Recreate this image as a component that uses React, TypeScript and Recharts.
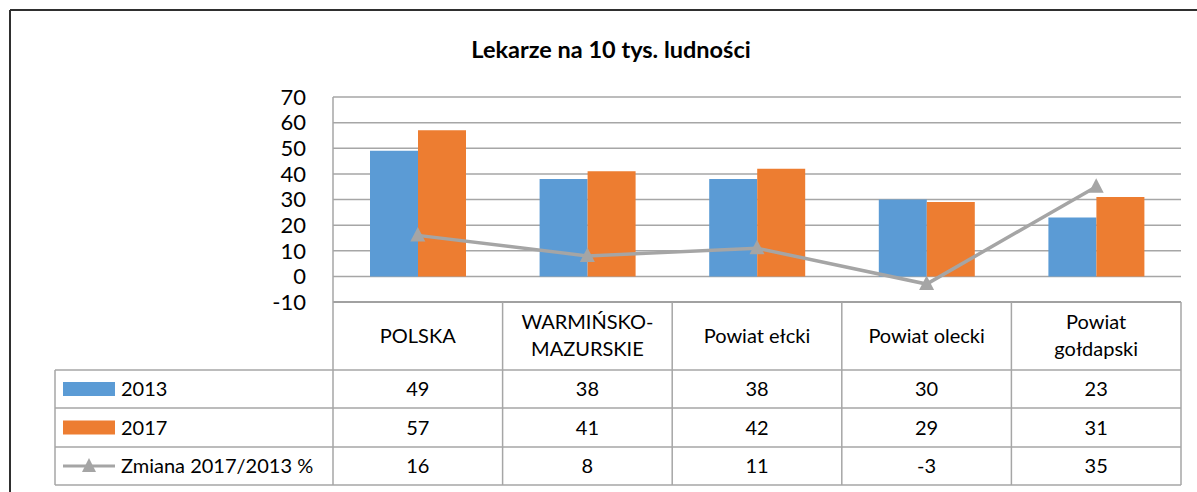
import React from 'react';
import { ComposedChart, Bar, Line, XAxis, YAxis, CartesianGrid, Customized } from 'recharts';

const categories = ['POLSKA', 'WARMIŃSKO-MAZURSKIE', 'Powiat ełcki', 'Powiat olecki', 'Powiat gołdapski'];
const headerLines = [['POLSKA'], ['WARMIŃSKO-', 'MAZURSKIE'], ['Powiat ełcki'], ['Powiat olecki'], ['Powiat', 'gołdapski']];
const values2013 = [49, 38, 38, 30, 23];
const values2017 = [57, 41, 42, 29, 31];
const changePct = [16, 8, 11, -3, 35];
const seriesNames = ['2013', '2017', 'Zmiana 2017/2013 %'];
const yTicks = [-10, 0, 10, 20, 30, 40, 50, 60, 70];
const title = 'Lekarze na 10 tys. ludności';

const data = categories.map((c, i) => ({
  name: c,
  idx: i,
  v2013: values2013[i],
  v2017: values2017[i],
  change: changePct[i],
}));

const W = 1197;
const H = 492;
const PLOT_LEFT = 333;
const PLOT_RIGHT = 1181;
const PLOT_TOP = 97;
const PLOT_BOTTOM = 302;
const ROW_LINES = [370, 408, 447, 485];
const LEGEND_LEFT = 55;
const FONT = 'Lato, "Open Sans", sans-serif';
const BLUE = '#5B9BD5';
const ORANGE = '#ED7D31';
const GRAY = '#A5A5A5';
const GRID = '#A6A6A6';

const rowCenters = [
  (ROW_LINES[0] + ROW_LINES[1]) / 2,
  (ROW_LINES[1] + ROW_LINES[2]) / 2,
  (ROW_LINES[2] + ROW_LINES[3]) / 2,
];

const TableTick = (props: any) => {
  const { x, payload } = props;
  const i = data.findIndex((d) => d.name === payload.value);
  const lines = headerLines[i] || [payload.value];
  const vals = [values2013[i], values2017[i], changePct[i]];
  const headerBase = lines.length === 1 ? [343] : [329, 356];
  return (
    <g>
      {lines.map((l, k) => (
        <text key={k} x={x} y={headerBase[k]} textAnchor="middle" fontFamily={FONT} fontSize={20} fill="#000">
          {l}
        </text>
      ))}
      {vals.map((v, k) => (
        <text key={'v' + k} x={x} y={rowCenters[k] + 7} textAnchor="middle" fontFamily={FONT} fontSize={20} fill="#000">
          {v}
        </text>
      ))}
    </g>
  );
};

const Triangle = (props: any) => {
  const { cx, cy, index } = props;
  if (cx == null || cy == null) return <g key={index} />;
  return (
    <path
      key={index}
      d={`M${cx},${cy - 8.5} L${cx + 7.5},${cy + 6} L${cx - 7.5},${cy + 6} Z`}
      fill={GRAY}
    />
  );
};

const Overlay = () => {
  const colW = (PLOT_RIGHT - PLOT_LEFT) / categories.length;
  const bounds = Array.from({ length: categories.length + 1 }, (_, i) => PLOT_LEFT + i * colW);
  return (
    <g>
      {/* frame */}
      <line x1={10} y1={10} x2={W + 5} y2={10} stroke="#2F2F2F" strokeWidth={2} />
      <line x1={10} y1={10} x2={10} y2={H + 5} stroke="#2F2F2F" strokeWidth={2} />
      {/* title */}
      <text x={611} y={58} textAnchor="middle" fontFamily={FONT} fontWeight={700} fontSize={23.5} fill="#000">
        {title}
      </text>
      {/* table horizontal lines */}
      <line x1={PLOT_LEFT} y1={PLOT_BOTTOM} x2={PLOT_RIGHT} y2={PLOT_BOTTOM} stroke="#999" strokeWidth={1.5} />
      {ROW_LINES.map((y, k) => (
        <line key={k} x1={LEGEND_LEFT} y1={y} x2={PLOT_RIGHT} y2={y} stroke={GRID} strokeWidth={1.5} />
      ))}
      {/* verticals */}
      <line x1={LEGEND_LEFT} y1={ROW_LINES[0]} x2={LEGEND_LEFT} y2={ROW_LINES[3]} stroke={GRID} strokeWidth={1.5} />
      {bounds.map((bx, k) => (
        <line
          key={'b' + k}
          x1={bx}
          y1={k === 0 ? PLOT_TOP : PLOT_BOTTOM}
          x2={bx}
          y2={ROW_LINES[3]}
          stroke={GRID}
          strokeWidth={1.5}
        />
      ))}
      {/* legend keys */}
      <rect x={63} y={rowCenters[0] - 7} width={52} height={14} fill={BLUE} />
      <rect x={63} y={rowCenters[1] - 7} width={52} height={14} fill={ORANGE} />
      <line x1={63} y1={rowCenters[2]} x2={115} y2={rowCenters[2]} stroke={GRAY} strokeWidth={3} />
      <path
        d={`M89,${rowCenters[2] - 8} L96,${rowCenters[2] + 6} L82,${rowCenters[2] + 6} Z`}
        fill={GRAY}
      />
      {seriesNames.map((s, k) => (
        <text key={'s' + k} x={121} y={rowCenters[k] + 7} fontFamily={FONT} fontSize={20} fill="#000">
          {s}
        </text>
      ))}
    </g>
  );
};

export default function App() {
  return (
    <div style={{ position: 'absolute', left: 0, top: 0, width: W, height: H, overflow: 'hidden', background: '#fff' }}>
      <ComposedChart
        width={W}
        height={H}
        data={data}
        margin={{ top: PLOT_TOP, right: W - PLOT_RIGHT, bottom: 7, left: 0 }}
        barGap={0}
      >
        <CartesianGrid vertical={false} stroke={GRID} strokeWidth={1.5} />
        <YAxis
          width={PLOT_LEFT}
          domain={[-10, 70]}
          ticks={yTicks}
          interval={0}
          axisLine={false}
          tickLine={false}
          tickSize={0}
          tickMargin={27}
          tick={{ fontFamily: FONT, fontSize: 22, fill: '#000' }}
        />
        <XAxis
          dataKey="name"
          height={H - PLOT_BOTTOM - 7}
          axisLine={false}
          tickLine={false}
          interval={0}
          tick={<TableTick />}
        />
        <Bar dataKey="v2013" name={seriesNames[0]} fill={BLUE} barSize={48} isAnimationActive={false} />
        <Bar dataKey="v2017" name={seriesNames[1]} fill={ORANGE} barSize={48} isAnimationActive={false} />
        <Line
          dataKey="change"
          name={seriesNames[2]}
          stroke={GRAY}
          strokeWidth={3.5}
          dot={<Triangle />}
          activeDot={false}
          isAnimationActive={false}
        />
        <Customized component={<Overlay />} />
      </ComposedChart>
    </div>
  );
}
